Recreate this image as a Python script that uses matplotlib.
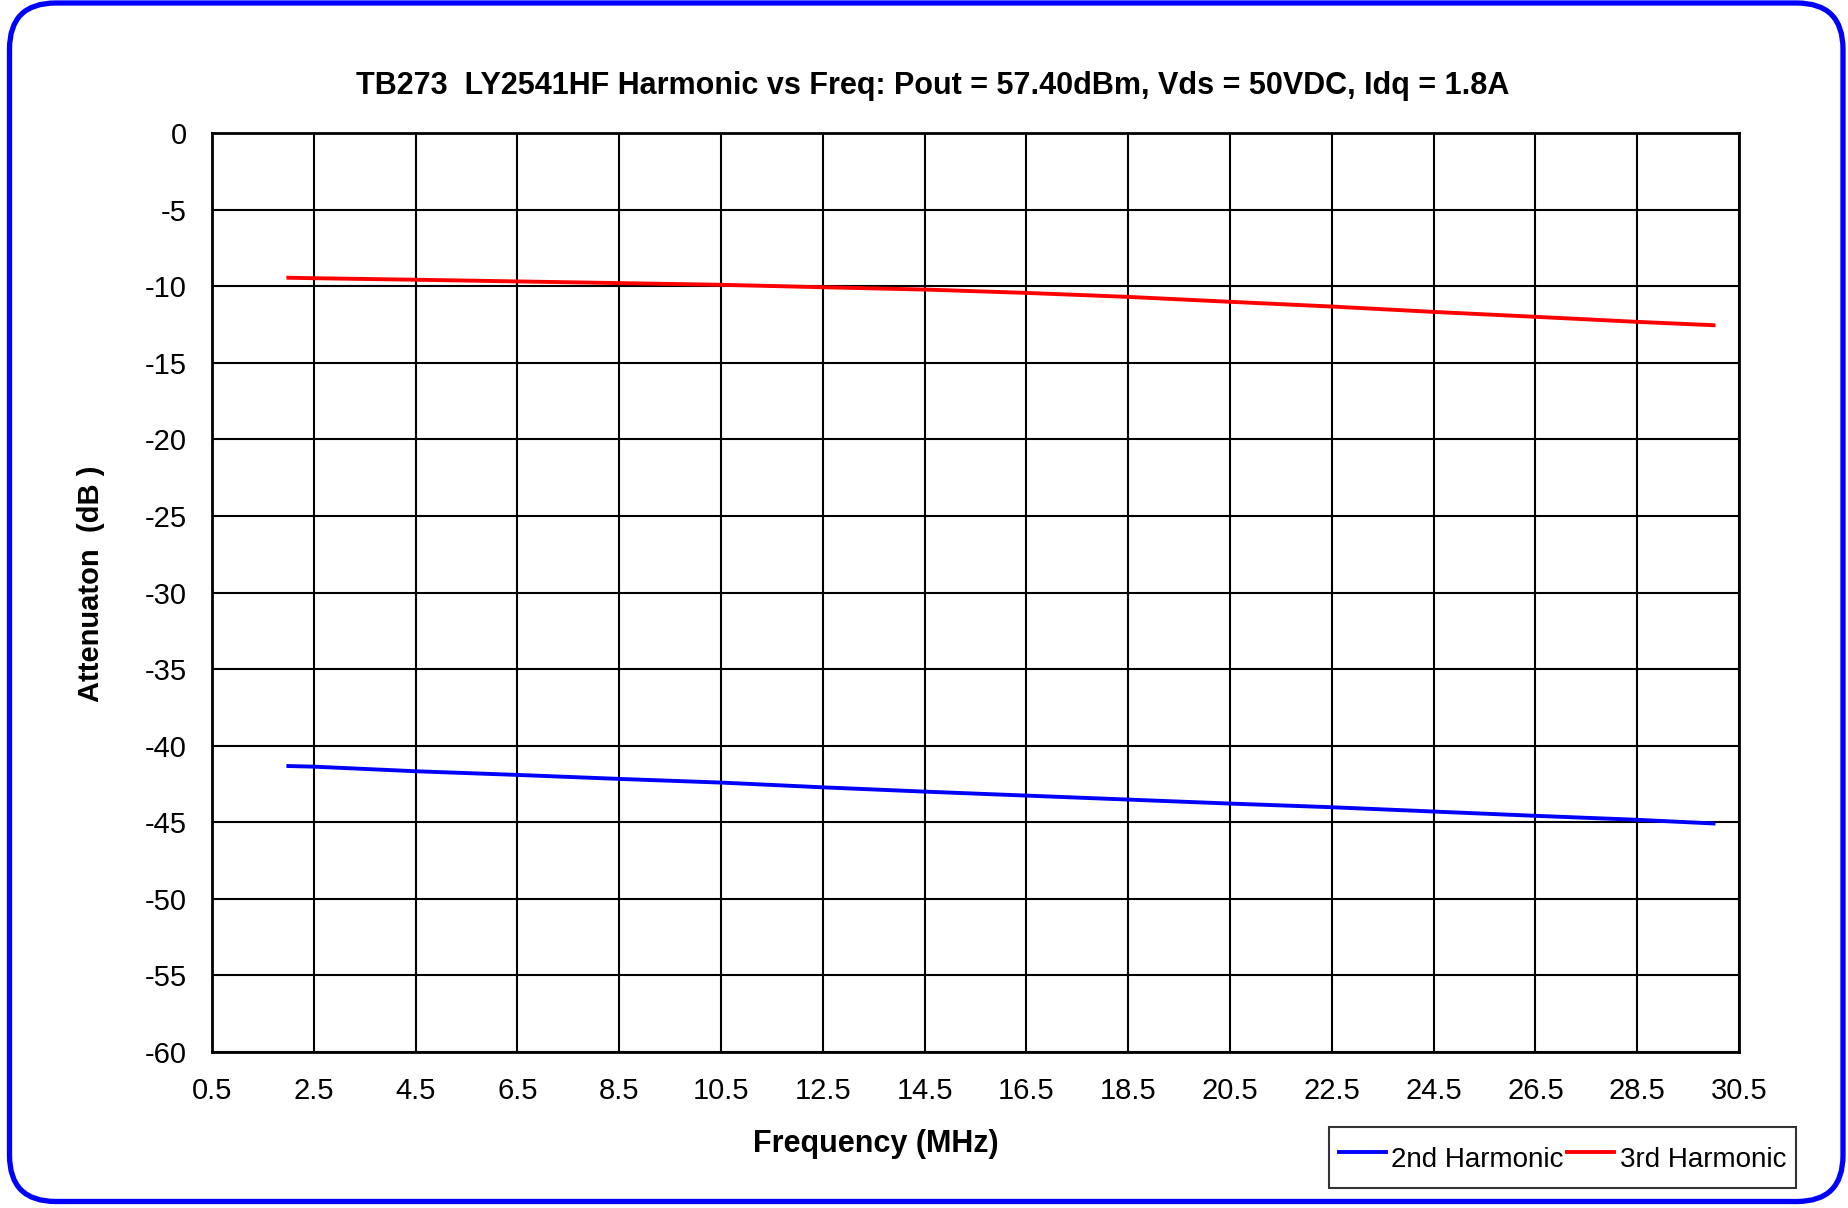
import matplotlib
matplotlib.use("Agg")
import matplotlib.pyplot as plt
from matplotlib.patches import FancyBboxPatch
import numpy as np

plt.rcParams['font.family'] = ['Liberation Sans', 'DejaVu Sans']

# Frequency points (MHz) and harmonic attenuation (dB)
freq_mhz = [2.0, 2.5, 4.5, 6.5, 8.5, 10.5, 12.5, 14.5, 16.5, 18.5, 20.5, 22.5, 24.5, 26.5, 28.5, 30.0]
harm_2nd = [-41.33, -41.37, -41.67, -41.91, -42.17, -42.41, -42.72, -43.00, -43.26,
            -43.52, -43.78, -44.02, -44.30, -44.58, -44.84, -45.08]
harm_3rd = [-9.45, -9.48, -9.58, -9.69, -9.80, -9.91, -10.07, -10.22, -10.44,
            -10.70, -11.02, -11.33, -11.68, -12.00, -12.33, -12.55]

x_ticks = [0.5 + 2 * i for i in range(16)]
y_ticks = list(range(-60, 1, 5))

W, H = 1849, 1208
fig = plt.figure(figsize=(W / 100, H / 100), dpi=100)
fig.patch.set_facecolor('white')

# Rounded blue chart border
border = FancyBboxPatch((9.5 / W, 6.5 / H), (1843 - 9.5) / W, (1205 - 6.5) / H,
                        boxstyle="round,pad=0,rounding_size=0.025",
                        transform=fig.transFigure, facecolor='none',
                        edgecolor='#0000ff', linewidth=3.8, mutation_aspect=W / H)
fig.patches.append(border)

left, right, top, bottom = 212, 1739, 133, 1052
ax = fig.add_axes([left / W, 1 - bottom / H, (right - left) / W, (bottom - top) / H])

ax.plot(freq_mhz, harm_2nd, color='#0000ff', lw=2.8, label='2nd Harmonic')
ax.plot(freq_mhz, harm_3rd, color='#ff0000', lw=2.8, label='3rd Harmonic')

ax.set_xlim(0.5, 30.5)
ax.set_ylim(-60, 0)
ax.set_xticks(x_ticks)
ax.set_xticklabels([f"{v:.1f}" for v in x_ticks])
ax.set_yticks(y_ticks)
ax.set_yticklabels([str(v) for v in y_ticks])
ax.tick_params(axis='both', length=0, labelsize=21, colors='black')
ax.tick_params(axis='y', pad=18)
ax.tick_params(axis='x', pad=18)
ax.grid(True, color='black', lw=1.5)
ax.set_axisbelow(True)
for s in ax.spines.values():
    s.set_color('black')
    s.set_linewidth(2)

fig.text(933 / W, 1 - 86 / H,
         "TB273  LY2541HF Harmonic vs Freq: Pout = 57.40dBm, Vds = 50VDC, Idq = 1.8A",
         ha='center', va='center', fontsize=22, fontweight='bold')
fig.text(876 / W, 1 - 1144 / H, "Frequency (MHz)", ha='center', va='center',
         fontsize=22, fontweight='bold')
fig.text(91 / W, 1 - 584 / H, "Attenuaton  (dB )", ha='center', va='center',
         rotation=90, fontsize=21, fontweight='bold')

leg = fig.legend(loc='upper left', bbox_to_anchor=(1329 / W, 1 - 1127 / H), ncol=2,
                 fontsize=20, frameon=True, fancybox=False, edgecolor='black',
                 handlelength=1.7, handleheight=1.95, handletextpad=0.2,
                 columnspacing=0.1, borderpad=0.35, borderaxespad=0)
leg.get_frame().set_linewidth(1.5)

fig.savefig("out.png", dpi=100, facecolor='white')
